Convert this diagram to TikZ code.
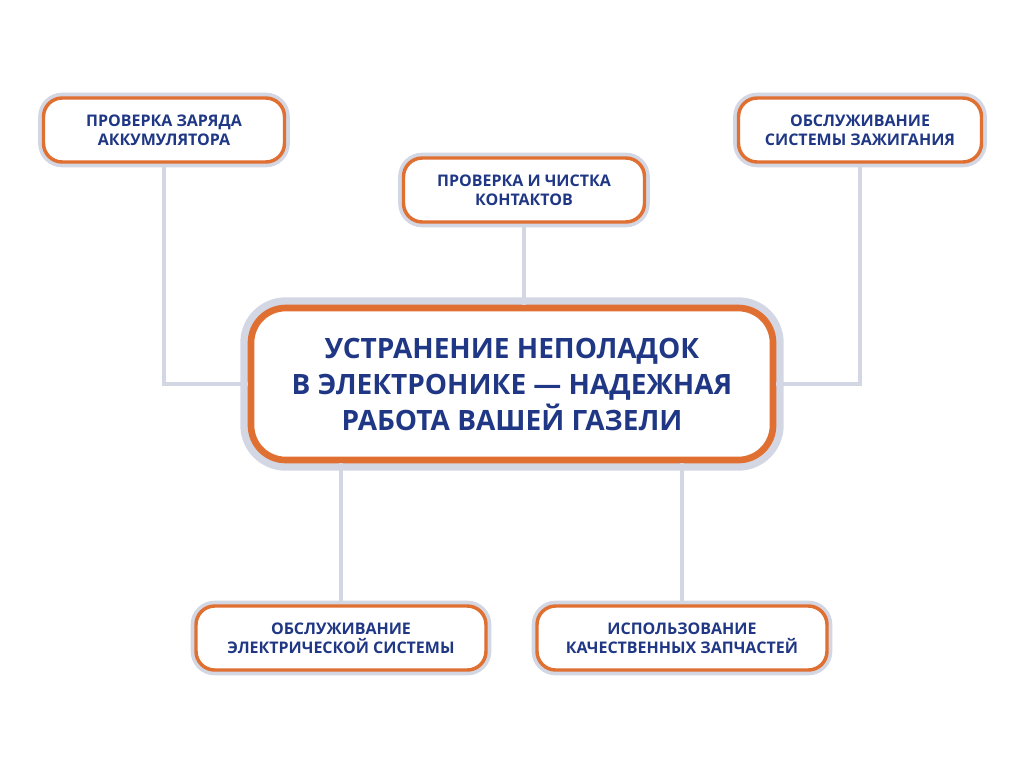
\documentclass[tikz,border=0pt]{standalone}
\usepackage{fontspec}
\setmainfont{Open Sans}
\usetikzlibrary{positioning}
\definecolor{boxorange}{HTML}{E07032}
\definecolor{linegray}{HTML}{D3D7E3}
\definecolor{textblue}{HTML}{1F3784}
\tikzset{
  task/.style={rectangle, rounded corners=14pt, fill=white, draw=boxorange, line width=2.6pt,
    preaction={draw=linegray, line width=8pt},
    text=textblue, font=\bfseries\fontsize{12}{14}\selectfont, align=center, inner sep=0pt},
  link/.style={draw=linegray, line width=2.4pt}
}
\begin{document}
\begin{tikzpicture}[x=0.75pt,y=-0.75pt]
\useasboundingbox (0,0) rectangle (1024,768);
\node[task, minimum width=241*0.75pt, minimum height=64*0.75pt] (charge) at (164,130) {ПРОВЕРКА ЗАРЯДА\\АККУМУЛЯТОРА};
\node[task, minimum width=241*0.75pt, minimum height=64*0.75pt] (contacts) at (524,190) {ПРОВЕРКА И ЧИСТКА\\КОНТАКТОВ};
\node[task, minimum width=243*0.75pt, minimum height=64*0.75pt] (ignition) at (860,130) {ОБСЛУЖИВАНИЕ\\СИСТЕМЫ ЗАЖИГАНИЯ};
\node[task, minimum width=290*0.75pt, minimum height=64*0.75pt] (electric) at (341,638) {ОБСЛУЖИВАНИЕ\\ЭЛЕКТРИЧЕСКОЙ СИСТЕМЫ};
\node[task, minimum width=290*0.75pt, minimum height=64*0.75pt] (parts) at (682,638) {ИСПОЛЬЗОВАНИЕ\\КАЧЕСТВЕННЫХ ЗАПЧАСТЕЙ};
\node[task, rounded corners=26pt, line width=5pt, preaction={draw=linegray, line width=16pt},
  minimum width=522*0.75pt, minimum height=152*0.75pt,
  font=\bfseries\fontsize{21}{27}\selectfont] (main) at (512,384)
  {УСТРАНЕНИЕ НЕПОЛАДОК\\В ЭЛЕКТРОНИКЕ — НАДЕЖНАЯ\\РАБОТА ВАШЕЙ ГАЗЕЛИ};
% connectors
\path[link] (charge.south) |- (main.west);
\path[link] (ignition.south) |- (main.east);
\path[link] (contacts.south) -- (contacts.south |- main.north);
\path[link] (electric.north) -- (electric.north |- main.south);
\path[link] (parts.north) -- (parts.north |- main.south);
\end{tikzpicture}
\end{document}
